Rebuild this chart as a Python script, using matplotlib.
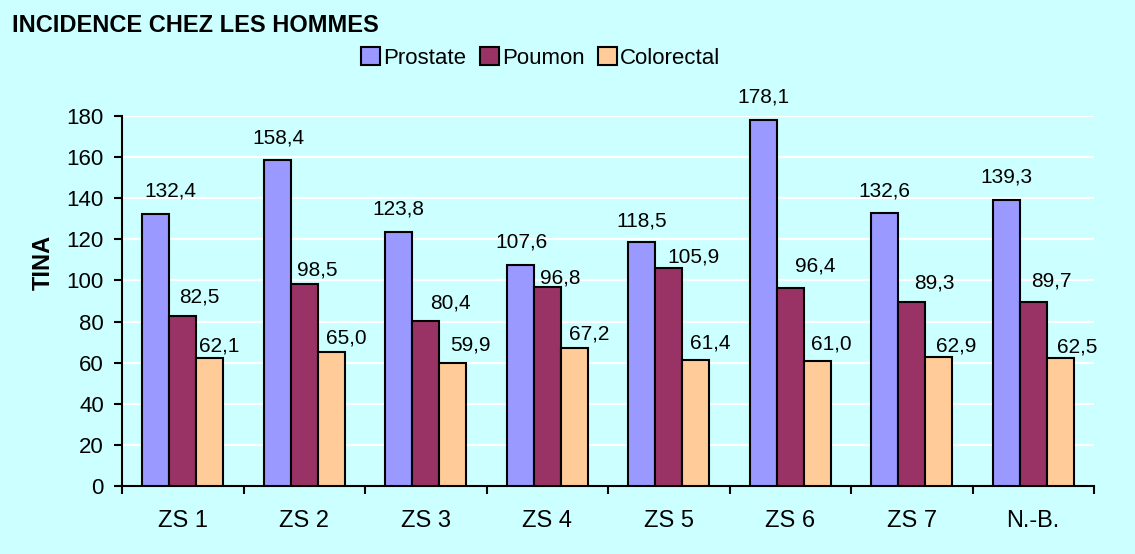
import matplotlib
matplotlib.use("Agg")
import matplotlib.pyplot as plt
import numpy as np

plt.rcParams['font.family'] = ['Liberation Sans', 'DejaVu Sans']

# data
zones = ['ZS 1', 'ZS 2', 'ZS 3', 'ZS 4', 'ZS 5', 'ZS 6', 'ZS 7', 'N.-B.']
prostate = [132.4, 158.4, 123.8, 107.6, 118.5, 178.1, 132.6, 139.3]
poumon = [82.5, 98.5, 80.4, 96.8, 105.9, 96.4, 89.3, 89.7]
colorectal = [62.1, 65.0, 59.9, 67.2, 61.4, 61.0, 62.9, 62.5]

series = [('Prostate', prostate, '#9999FF'),
          ('Poumon', poumon, '#993366'),
          ('Colorectal', colorectal, '#FFCC99')]

# label nudges in pixels (dx, dy above bar top), labels were hand placed
nudges = [
    [(15, 17), (1, 17), (0, 17), (1, 17), (0, 16), (0, 17), (0, 17), (0, 17)],
    [(17, 14), (13, 8), (25, 12), (13, 4), (25, 6), (25, 16), (23, 14), (18, 15)],
    [(9, 7), (15, 9), (18, 12), (15, 8), (15, 11), (14, 11), (17, 5), (17, 5)],
]

bg = '#CCFFFF'
fig = plt.figure(figsize=(11.35, 5.54), dpi=100, facecolor=bg)
ax = fig.add_axes([122/1135, 1-486/554, (1094-122)/1135, (486-116)/554])
ax.set_facecolor(bg)

x = np.arange(len(zones)) + 0.5
w = 0.222
for k, (name, vals, col) in enumerate(series):
    xs = x + (k - 1) * w
    ax.bar(xs, vals, w, color=col, edgecolor='black', linewidth=1.5,
           label=name, zorder=3)
    for j, v in enumerate(vals):
        dx, dy = nudges[k][j]
        ax.annotate(f'{v:.1f}'.replace('.', ','), (xs[j], v),
                    xytext=(dx, dy), textcoords='offset pixels',
                    ha='center', va='baseline', fontsize=15,
                    annotation_clip=False, zorder=4)

ax.set_xlim(0, len(zones))
ax.set_ylim(0, 180)
ax.set_yticks(np.arange(0, 181, 20))
ax.yaxis.grid(True, color='white', linewidth=1.6, zorder=0)
ax.set_axisbelow(True)

ax.set_xticks(np.arange(0, len(zones) + 1))
ax.set_xticklabels([])
ax.set_xticks(x, minor=True)
ax.set_xticklabels(zones, minor=True, fontsize=17)
ax.tick_params(axis='x', which='major', direction='out', length=6, width=1.5)
ax.tick_params(axis='x', which='minor', length=0, pad=17)
ax.tick_params(axis='y', direction='out', length=6, width=1.5, pad=7,
               labelsize=16)

for s in ['top', 'right']:
    ax.spines[s].set_visible(False)
for s in ['left', 'bottom']:
    ax.spines[s].set_linewidth(1.5)

fig.text(12/1135, 1-25/554, 'INCIDENCE CHEZ LES HOMMES', fontsize=17,
         fontweight='bold', va='center', ha='left')
fig.text(43/1135, 1-262/554, 'TINA', fontsize=17, fontweight='bold',
         rotation=90, va='center', ha='center')

fig.legend(loc='center', bbox_to_anchor=(541/1135, 1-58/554), ncol=3,
           frameon=False, fontsize=16, handlelength=0.85, handleheight=0.85,
           handletextpad=0.15, columnspacing=0.6, borderaxespad=0)

fig.savefig('out.png', dpi=100, facecolor=bg)
